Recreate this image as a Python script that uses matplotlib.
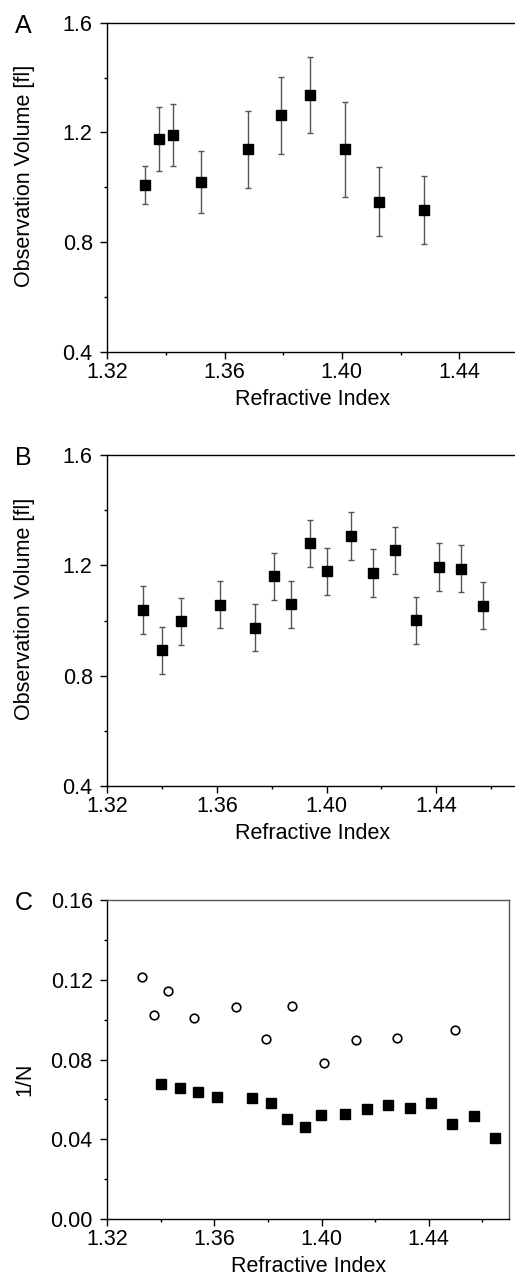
import matplotlib
matplotlib.use("Agg")
import matplotlib.pyplot as plt
from matplotlib.ticker import MultipleLocator, FormatStrFormatter

plt.rcParams['font.family'] = ['Liberation Sans', 'DejaVu Sans']

# panel A: observation volume vs refractive index
ri_a = [1.3328, 1.3376, 1.3423, 1.3519, 1.3681, 1.3793, 1.3892, 1.4009, 1.4127, 1.4281]
vol_a = [1.008, 1.177, 1.191, 1.019, 1.138, 1.262, 1.336, 1.138, 0.947, 0.917]
err_a = [0.070, 0.117, 0.113, 0.114, 0.141, 0.140, 0.139, 0.172, 0.125, 0.123]

# panel B
ri_b = [1.3329, 1.3399, 1.3470, 1.3610, 1.3740, 1.3809, 1.3871, 1.3940,
        1.4000, 1.4090, 1.4171, 1.4250, 1.4328, 1.4411, 1.4491, 1.4570]
vol_b = [1.038, 0.892, 0.997, 1.057, 0.974, 1.160, 1.059, 1.280,
         1.178, 1.306, 1.173, 1.254, 1.001, 1.194, 1.188, 1.054]
err_b = [0.086] * 16

# panel C: 1/N
ri_c_open = [1.3330, 1.3375, 1.3426, 1.3522, 1.3682, 1.3793, 1.3891, 1.4009,
             1.4128, 1.4282, 1.4498]
invn_open = [0.1216, 0.1024, 0.1143, 0.1010, 0.1066, 0.0905, 0.1071, 0.0781,
             0.0896, 0.0906, 0.0950]
ri_c_fill = [1.3400, 1.3470, 1.3540, 1.3610, 1.3740, 1.3811, 1.3870, 1.3938,
             1.3999, 1.4088, 1.4169, 1.4247, 1.4329, 1.4409, 1.4487, 1.4568, 1.4647]
invn_fill = [0.0677, 0.0658, 0.0637, 0.0612, 0.0605, 0.0580, 0.0501, 0.0459,
             0.0519, 0.0526, 0.0553, 0.0573, 0.0556, 0.0580, 0.0475, 0.0518, 0.0405]

W, H = 515, 1281
FS = 15.5
fig = plt.figure(figsize=(W / 100, H / 100), dpi=100)


def px_axes(left, top, right, bottom):
    return fig.add_axes([left / W, 1 - bottom / H, (right - left) / W, (bottom - top) / H])


def style(ax, letter, ylab, ylab_y):
    for s in ax.spines.values():
        s.set_linewidth(1.0)
    ax.tick_params(which='major', direction='out', length=5, width=1.0, labelsize=FS)
    ax.tick_params(which='minor', direction='out', length=2.5, width=1.0)
    ax.tick_params(axis='y', which='major', pad=5.5)
    ax.tick_params(axis='x', which='major', pad=2.5)
    ax.xaxis.set_major_locator(MultipleLocator(0.04))
    ax.xaxis.set_minor_locator(MultipleLocator(0.02))
    ax.xaxis.set_major_formatter(FormatStrFormatter('%.2f'))
    ax.set_xlabel('Refractive Index', fontsize=FS)
    ax.set_ylabel(ylab, fontsize=FS)
    bb = ax.get_position()
    hpx = bb.height * H
    wpx = bb.width * W
    ax.xaxis.set_label_coords(0.5, -37 / hpx)
    ax.yaxis.set_label_coords(-72 / wpx, ylab_y)
    ax.text(-84 / wpx, 1 - 3 / hpx, letter, transform=ax.transAxes, fontsize=18,
            ha='center', va='center')


# A
axA = px_axes(107.3, 22.7, 517.8, 351.7)
axA.errorbar(ri_a, vol_a, yerr=err_a, fmt='s', color='black', ms=6.8,
             ecolor='#555555', elinewidth=1.0, capsize=2.5, capthick=1.0)
axA.set_xlim(1.32, 1.46)
axA.set_ylim(0.4, 1.6)
axA.yaxis.set_major_locator(MultipleLocator(0.4))
axA.yaxis.set_minor_locator(MultipleLocator(0.2))
axA.yaxis.set_major_formatter(FormatStrFormatter('%.1f'))
axA.spines['right'].set_visible(False)
style(axA, 'A', 'Observation Volume [fl]', 0.534)

# B
axB = px_axes(107.3, 455, 518.3, 786)
axB.errorbar(ri_b, vol_b, yerr=err_b, fmt='s', color='black', ms=6.8,
             ecolor='#555555', elinewidth=1.0, capsize=2.5, capthick=1.0)
axB.set_xlim(1.32, 1.47)
axB.set_ylim(0.4, 1.6)
axB.yaxis.set_major_locator(MultipleLocator(0.4))
axB.yaxis.set_minor_locator(MultipleLocator(0.2))
axB.yaxis.set_major_formatter(FormatStrFormatter('%.1f'))
axB.spines['right'].set_visible(False)
style(axB, 'B', 'Observation Volume [fl]', 0.534)

# C
axC = px_axes(107.3, 900.3, 509, 1218.7)
axC.plot(ri_c_open, invn_open, 'o', mfc='white', mec='black', mew=1.2, ms=6.2, linestyle='none')
axC.plot(ri_c_fill, invn_fill, 's', color='black', ms=6.8, linestyle='none')
axC.set_xlim(1.32, 1.47)
axC.set_ylim(0.0, 0.16)
axC.yaxis.set_major_locator(MultipleLocator(0.04))
axC.yaxis.set_minor_locator(MultipleLocator(0.02))
axC.yaxis.set_major_formatter(FormatStrFormatter('%.2f'))
style(axC, 'C', '1/N', 0.439)
axC.spines['right'].set_color('#555555')
axC.spines['top'].set_color('#555555')

fig.savefig('out.png', dpi=100)
